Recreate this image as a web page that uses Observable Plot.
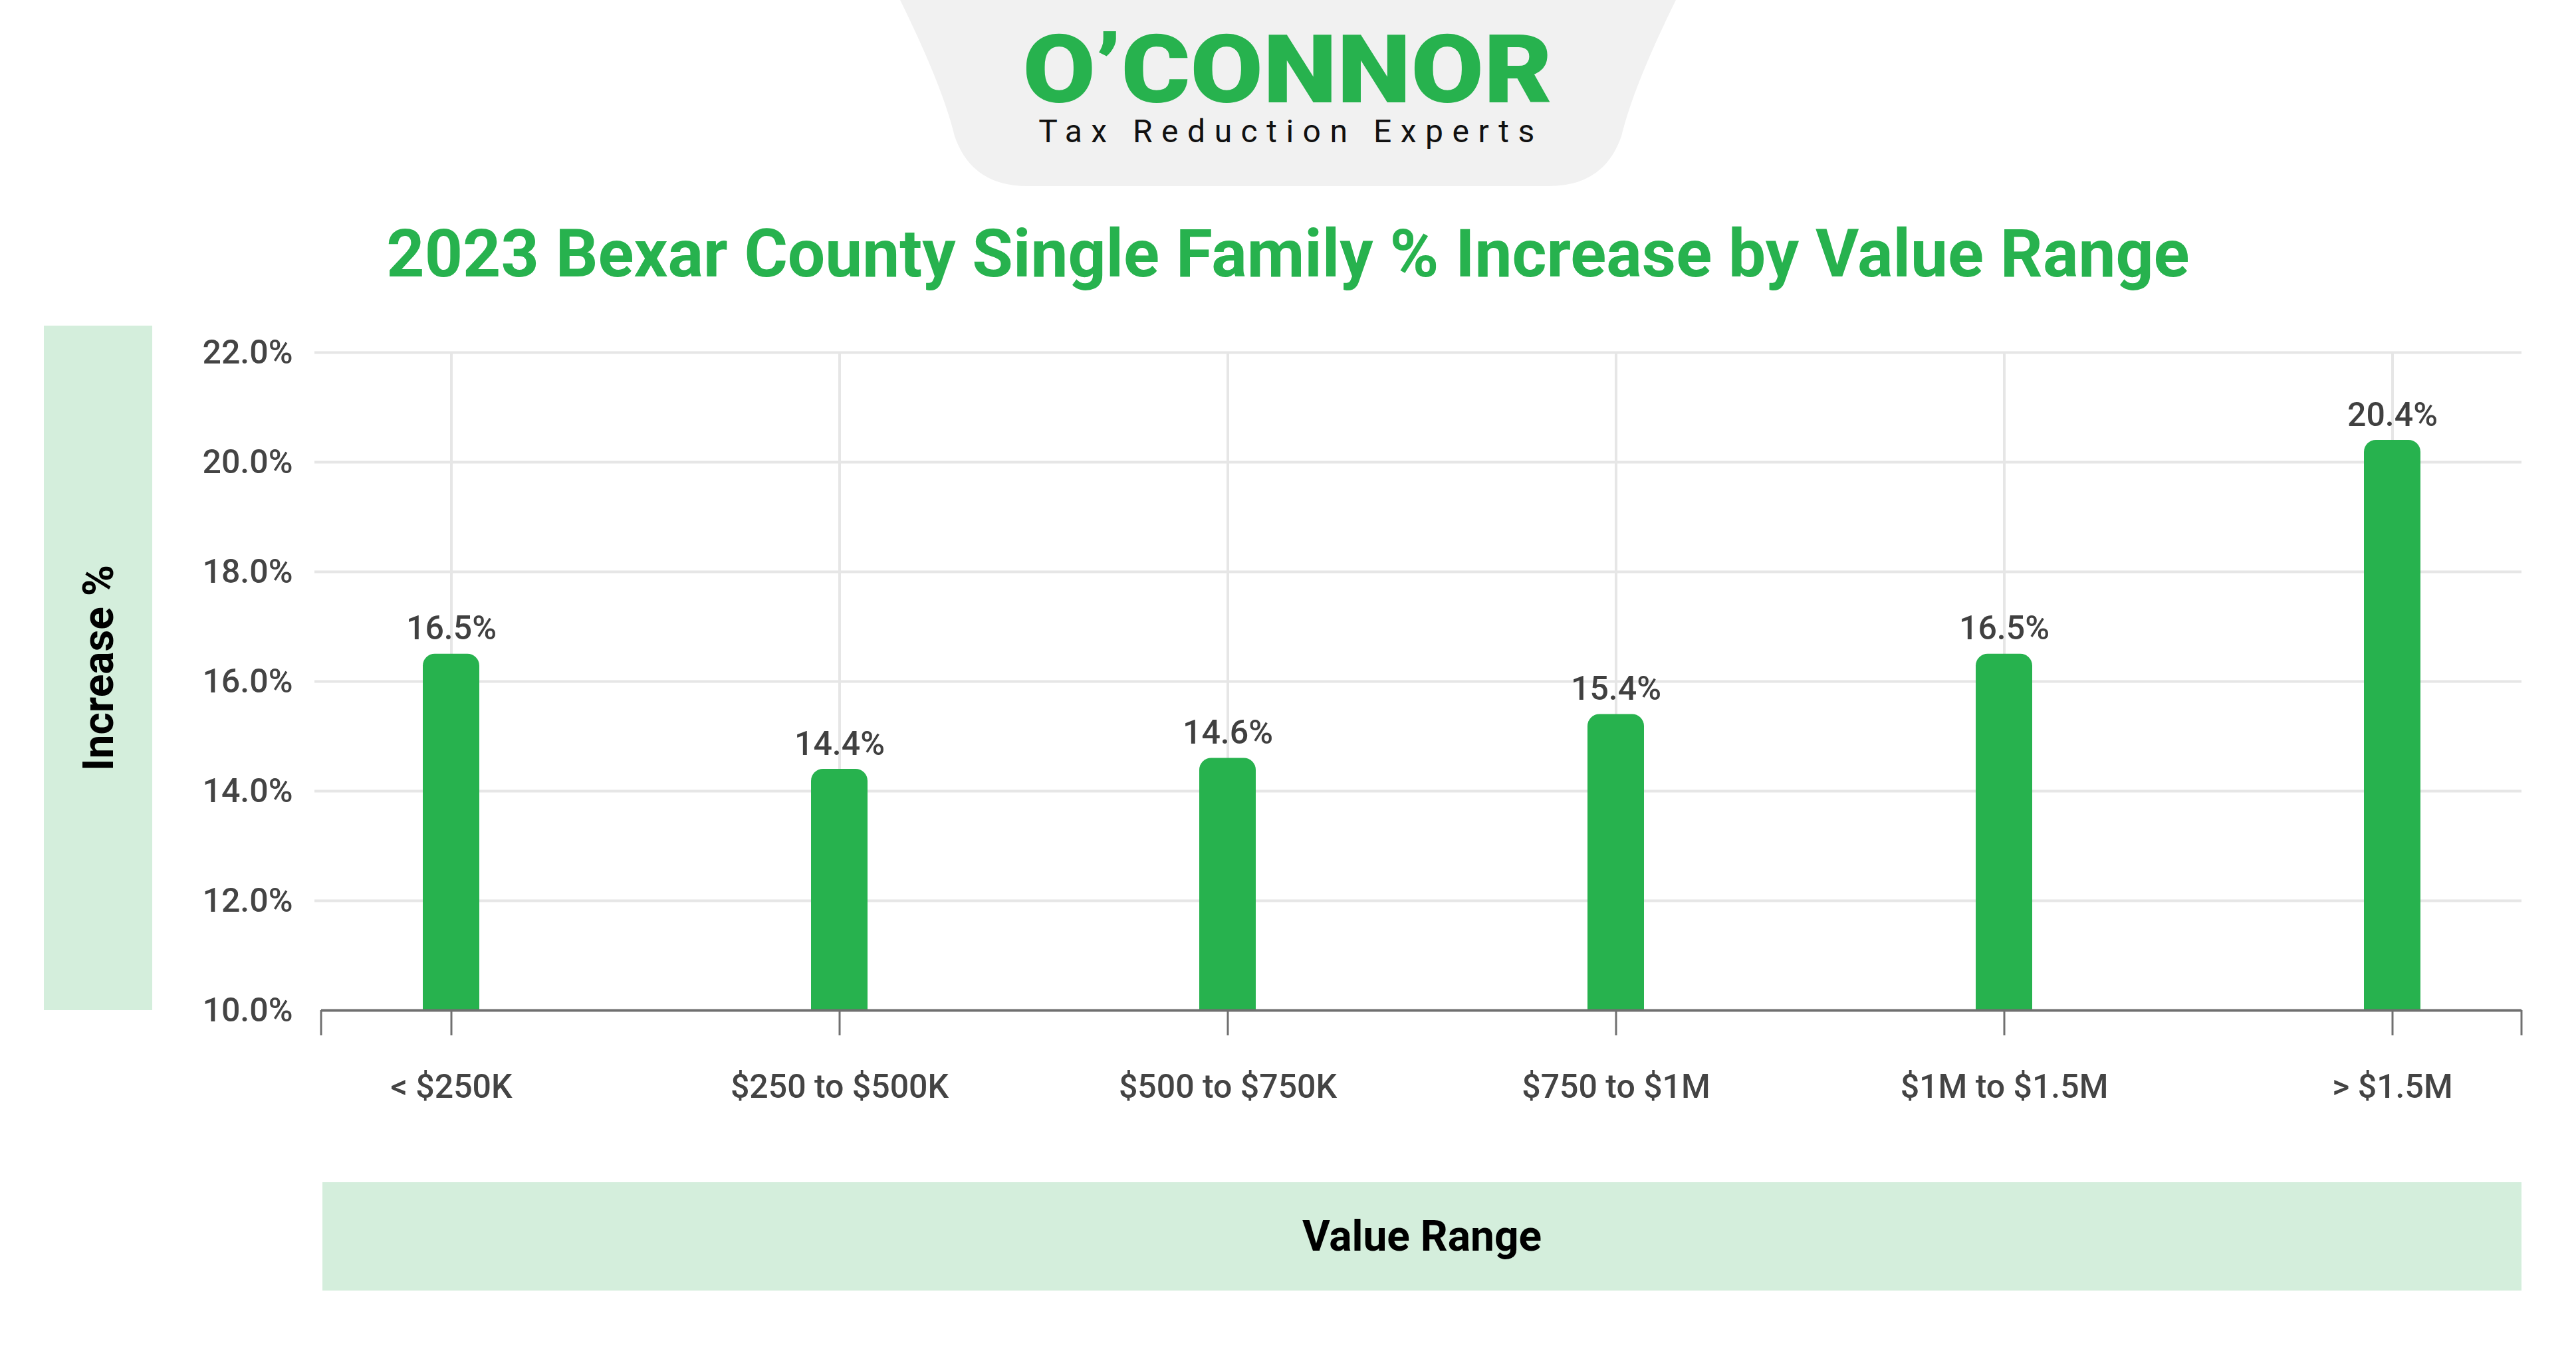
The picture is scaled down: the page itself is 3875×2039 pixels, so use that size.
<!DOCTYPE html>
<html>
<head>
<meta charset="utf-8">
<script src="https://cdn.jsdelivr.net/npm/d3@7"></script>
<script src="https://cdn.jsdelivr.net/npm/@observablehq/plot@0.6"></script>
<style>
  html, body { margin: 0; padding: 0; background: #ffffff; }
  #page { position: relative; width: 3875px; height: 2039px; overflow: hidden; background: #ffffff; font-family: Roboto, "Noto Sans", sans-serif; }
  #logo { position: absolute; left: 0; top: 0; }
  #title { position: absolute; left: 0; width: 3875px; top: 322px; text-align: center; font-size: 100px; font-weight: 700; color: #27b24e; line-height: 1.2; white-space: nowrap; }
  #ylab { position: absolute; left: 66px; top: 490px; width: 163px; height: 1030px; background: #d4eedc; }
  #ylab span { position: absolute; left: 50%; top: 50%; transform: translate(-50%, -50%) rotate(-90deg); font-size: 64px; font-weight: 700; color: #000; white-space: nowrap; }
  #xlab { position: absolute; left: 485px; top: 1779px; width: 3308px; height: 163px; background: #d4eedc; display: flex; align-items: center; justify-content: center; font-size: 64px; font-weight: 700; color: #000; }
  #chart { position: absolute; left: 0; top: 470px; }
</style>
</head>
<body>
<div id="page">
  <svg id="logo" width="3875" height="300" viewBox="0 0 3875 300">
    <path d="M1354,0 Q1418,130 1436,205 Q1462,280 1545,280 L2330,280 Q2413,280 2439,205 Q2457,130 2521,0 Z" fill="#f1f1f1"/>
    <text x="1937" y="154" text-anchor="middle" font-family="Roboto" font-weight="900" font-size="142" fill="#27b24e" textLength="797" lengthAdjust="spacingAndGlyphs">O’CONNOR</text>
    <text x="1942" y="214" text-anchor="middle" font-family="Roboto" font-weight="400" font-size="48" fill="#111" letter-spacing="13.5">Tax Reduction Experts</text>
  </svg>
  <div id="title">2023 Bexar County Single Family % Increase by Value Range</div>
  <div id="ylab"><span>Increase %</span></div>
  <div id="xlab">Value Range</div>
  <div id="chart"></div>
</div>
<script>
const categories = ["< $250K", "$250 to $500K", "$500 to $750K", "$750 to $1M", "$1M to $1.5M", "> $1.5M"];
const increases = [16.5, 14.4, 14.6, 15.4, 16.5, 20.4];
const yTicks = [10, 12, 14, 16, 18, 20, 22];

const data = categories.map((c, i) => ({category: c, value: increases[i]}));
const green = "#27b24e";
const fmt = d => d.toFixed(1) + "%";

const endTicks = (index, scales, values, dims) => {
  const g = d3.create("svg:g");
  const y0 = scales.y(yTicks[0]);
  const xs = [dims.marginLeft, dims.width - dims.marginRight];
  for (const x of xs) {
    g.append("line").attr("x1", x).attr("x2", x).attr("y1", y0).attr("y2", y0 + 38)
      .attr("stroke", "#707070").attr("stroke-width", 3);
  }
  return g.node();
};

const chart = Plot.plot({
  width: 3875,
  height: 1250,
  marginTop: 60,
  marginBottom: 200,
  marginLeft: 483,
  marginRight: 82,
  style: {fontFamily: "Roboto, sans-serif", background: "transparent"},
  x: {type: "band", domain: categories, paddingInner: 0.855, paddingOuter: 0.2566},
  y: {domain: [yTicks[0], yTicks[yTicks.length - 1]]},
  marks: [
    Plot.gridY(yTicks.slice(1), {stroke: "#e6e6e6", strokeOpacity: 1, strokeWidth: 4, insetLeft: -10}),
    Plot.gridX({stroke: "#e6e6e6", strokeOpacity: 1, strokeWidth: 4}),
    Plot.barY(data, {x: "category", y1: yTicks[0], y2: "value", fill: green, ry1: 18}),
    Plot.text(data, {x: "category", y: "value", text: d => fmt(d.value), lineAnchor: "bottom", dy: -22, fontSize: 50, fill: "#404040", fontWeight: 500}),
    Plot.ruleY([yTicks[0]], {stroke: "#707070", strokeWidth: 4}),
    Plot.axisX({tickSize: 38, tickPadding: 58, stroke: "#707070", strokeWidth: 3, strokeOpacity: 1, fontSize: 50, fill: "#444", fontWeight: 500, label: null}),
    Plot.axisY({ticks: yTicks, tickSize: 0, tickPadding: 43, tickFormat: fmt, fontSize: 50, fill: "#444", fontWeight: 500, label: null}),
    endTicks
  ]
});
document.getElementById("chart").appendChild(chart);
</script>
</body>
</html>
